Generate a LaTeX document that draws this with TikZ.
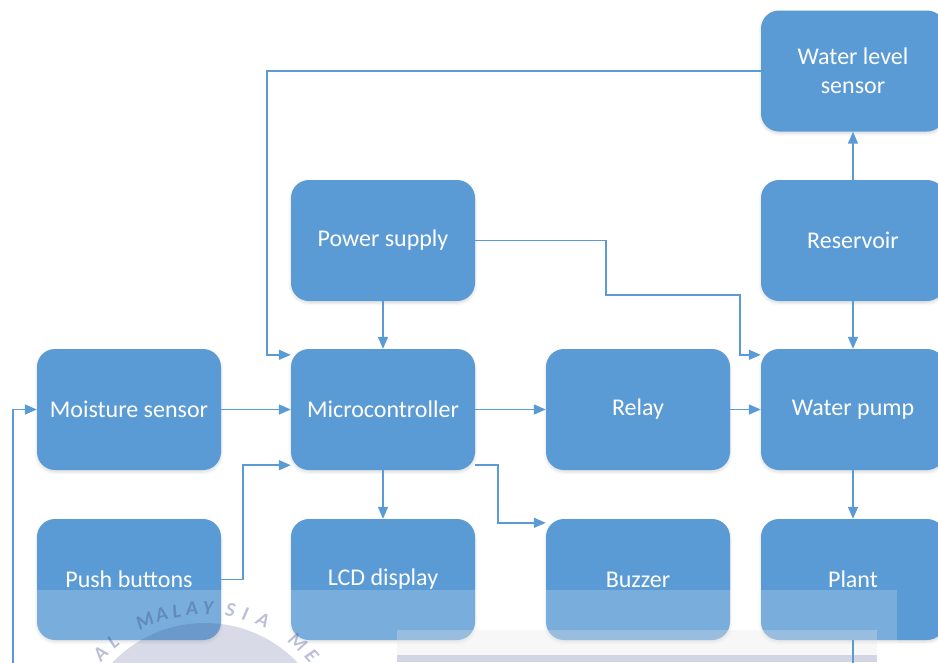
\documentclass[tikz,border=0pt]{standalone}
\usepackage{fontspec}
\setmainfont{Carlito}
\usetikzlibrary{arrows.meta,shadows.blur,calc}

\definecolor{boxblue}{HTML}{5B9BD5}
\definecolor{lineblue}{HTML}{5B9BD5}
\definecolor{sealgray}{HTML}{3A4A8A}
\definecolor{bandgray}{HTML}{D2D5E4}

\begin{document}
\begin{tikzpicture}[x=1pt,y=-1pt,
  block/.style={fill=boxblue, rounded corners=18pt, minimum width=184pt,
    minimum height=121pt, inner sep=0pt, text=white, align=center,
    font=\fontsize{24}{29}\selectfont,
    blur shadow={shadow xshift=0pt, shadow yshift=-2pt,
      shadow blur radius=3pt, shadow opacity=15}},
  conn/.style={draw=lineblue, line width=1.6pt,
    -{Triangle[length=12pt,width=10pt]}},
  sealtext/.style={text=sealgray, opacity=0.35, inner sep=0pt,
    font=\fontsize{20}{20}\selectfont\bfseries\itshape}]

\useasboundingbox (0,0) rectangle (938,662);
\clip (0,0) rectangle (938,662);

% blocks
\node[block] (wls)   at (853,71)    {Water level\\sensor};
\node[block] (ps)    at (383,240.5) {Power supply};
\node[block] (res)   at (853,240.5) {Reservoir};
\node[block] (ms)    at (129,409.5) {Moisture sensor};
\node[block] (mc)    at (383,409.5) {Microcontroller};
\node[block] (relay) at (638,409.5) {Relay};
\node[block] (wp)    at (853,409.5) {Water pump};
\node[block] (pb)    at (129,579.5) {Push buttons};
\node[block] (lcd)   at (383,579.5) {LCD display};
\node[block] (buz)   at (638,579.5) {Buzzer};
\node[block] (plant) at (853,579.5) {Plant};

% faint seal stamped over the lower part of the page
\fill[white, opacity=0.19] (37,590) rectangle (897,662);
\fill[sealgray, opacity=0.2] (205,751) circle (128pt);
\foreach \ch/\a in {A/-46.9, L/-40,
                    M/-24.9, A/-17.8, L/-11.5, A/-5.3, Y/1.2, S/10.2, I/16.4, A/23.9,
                    M/40.4, E/48.2}
  \node[sealtext, rotate=-\a] at ({205+143*sin(\a)},{751-143*cos(\a)}) {\ch};
\fill[black!10, opacity=0.3] (397,630) rectangle (877,655);
\fill[bandgray] (397,655) rectangle (877,662);

% connectors
\draw[conn] (wls.west) -| ([xshift=-24pt,yshift=-6pt]mc.north west)
  -- ([yshift=-6pt]mc.north west);
\draw[conn] (ps.south) -- (mc.north);
\draw[conn] (ps.east) -| (606,295) -| ([xshift=-21pt,yshift=-6pt]wp.north west)
  -- ([yshift=-6pt]wp.north west);
\draw[conn] (res.south) -- (wp.north);
\draw[conn] (res.north) -- (wls.south);
\draw[conn] (ms.east) -- (mc.west);
\draw[conn] (mc.east) -- (relay.west);
\draw[conn] (relay.east) -- (wp.west);
\draw[conn] (pb.east) -| ([xshift=-48pt,yshift=5pt]mc.south west)
  -- ([yshift=5pt]mc.south west);
\draw[conn] (mc.south) -- (lcd.north);
\draw[conn] ([yshift=5pt]mc.south east) -| ([xshift=-48pt,yshift=-4pt]buz.north west)
  -- ([yshift=-4pt]buz.north west);
\draw[conn] (wp.south) -- (plant.north);
\draw[conn] (plant.south) -- ++(0,50) -| ([xshift=-24pt]ms.west) -- (ms.west);
\end{tikzpicture}
\end{document}
